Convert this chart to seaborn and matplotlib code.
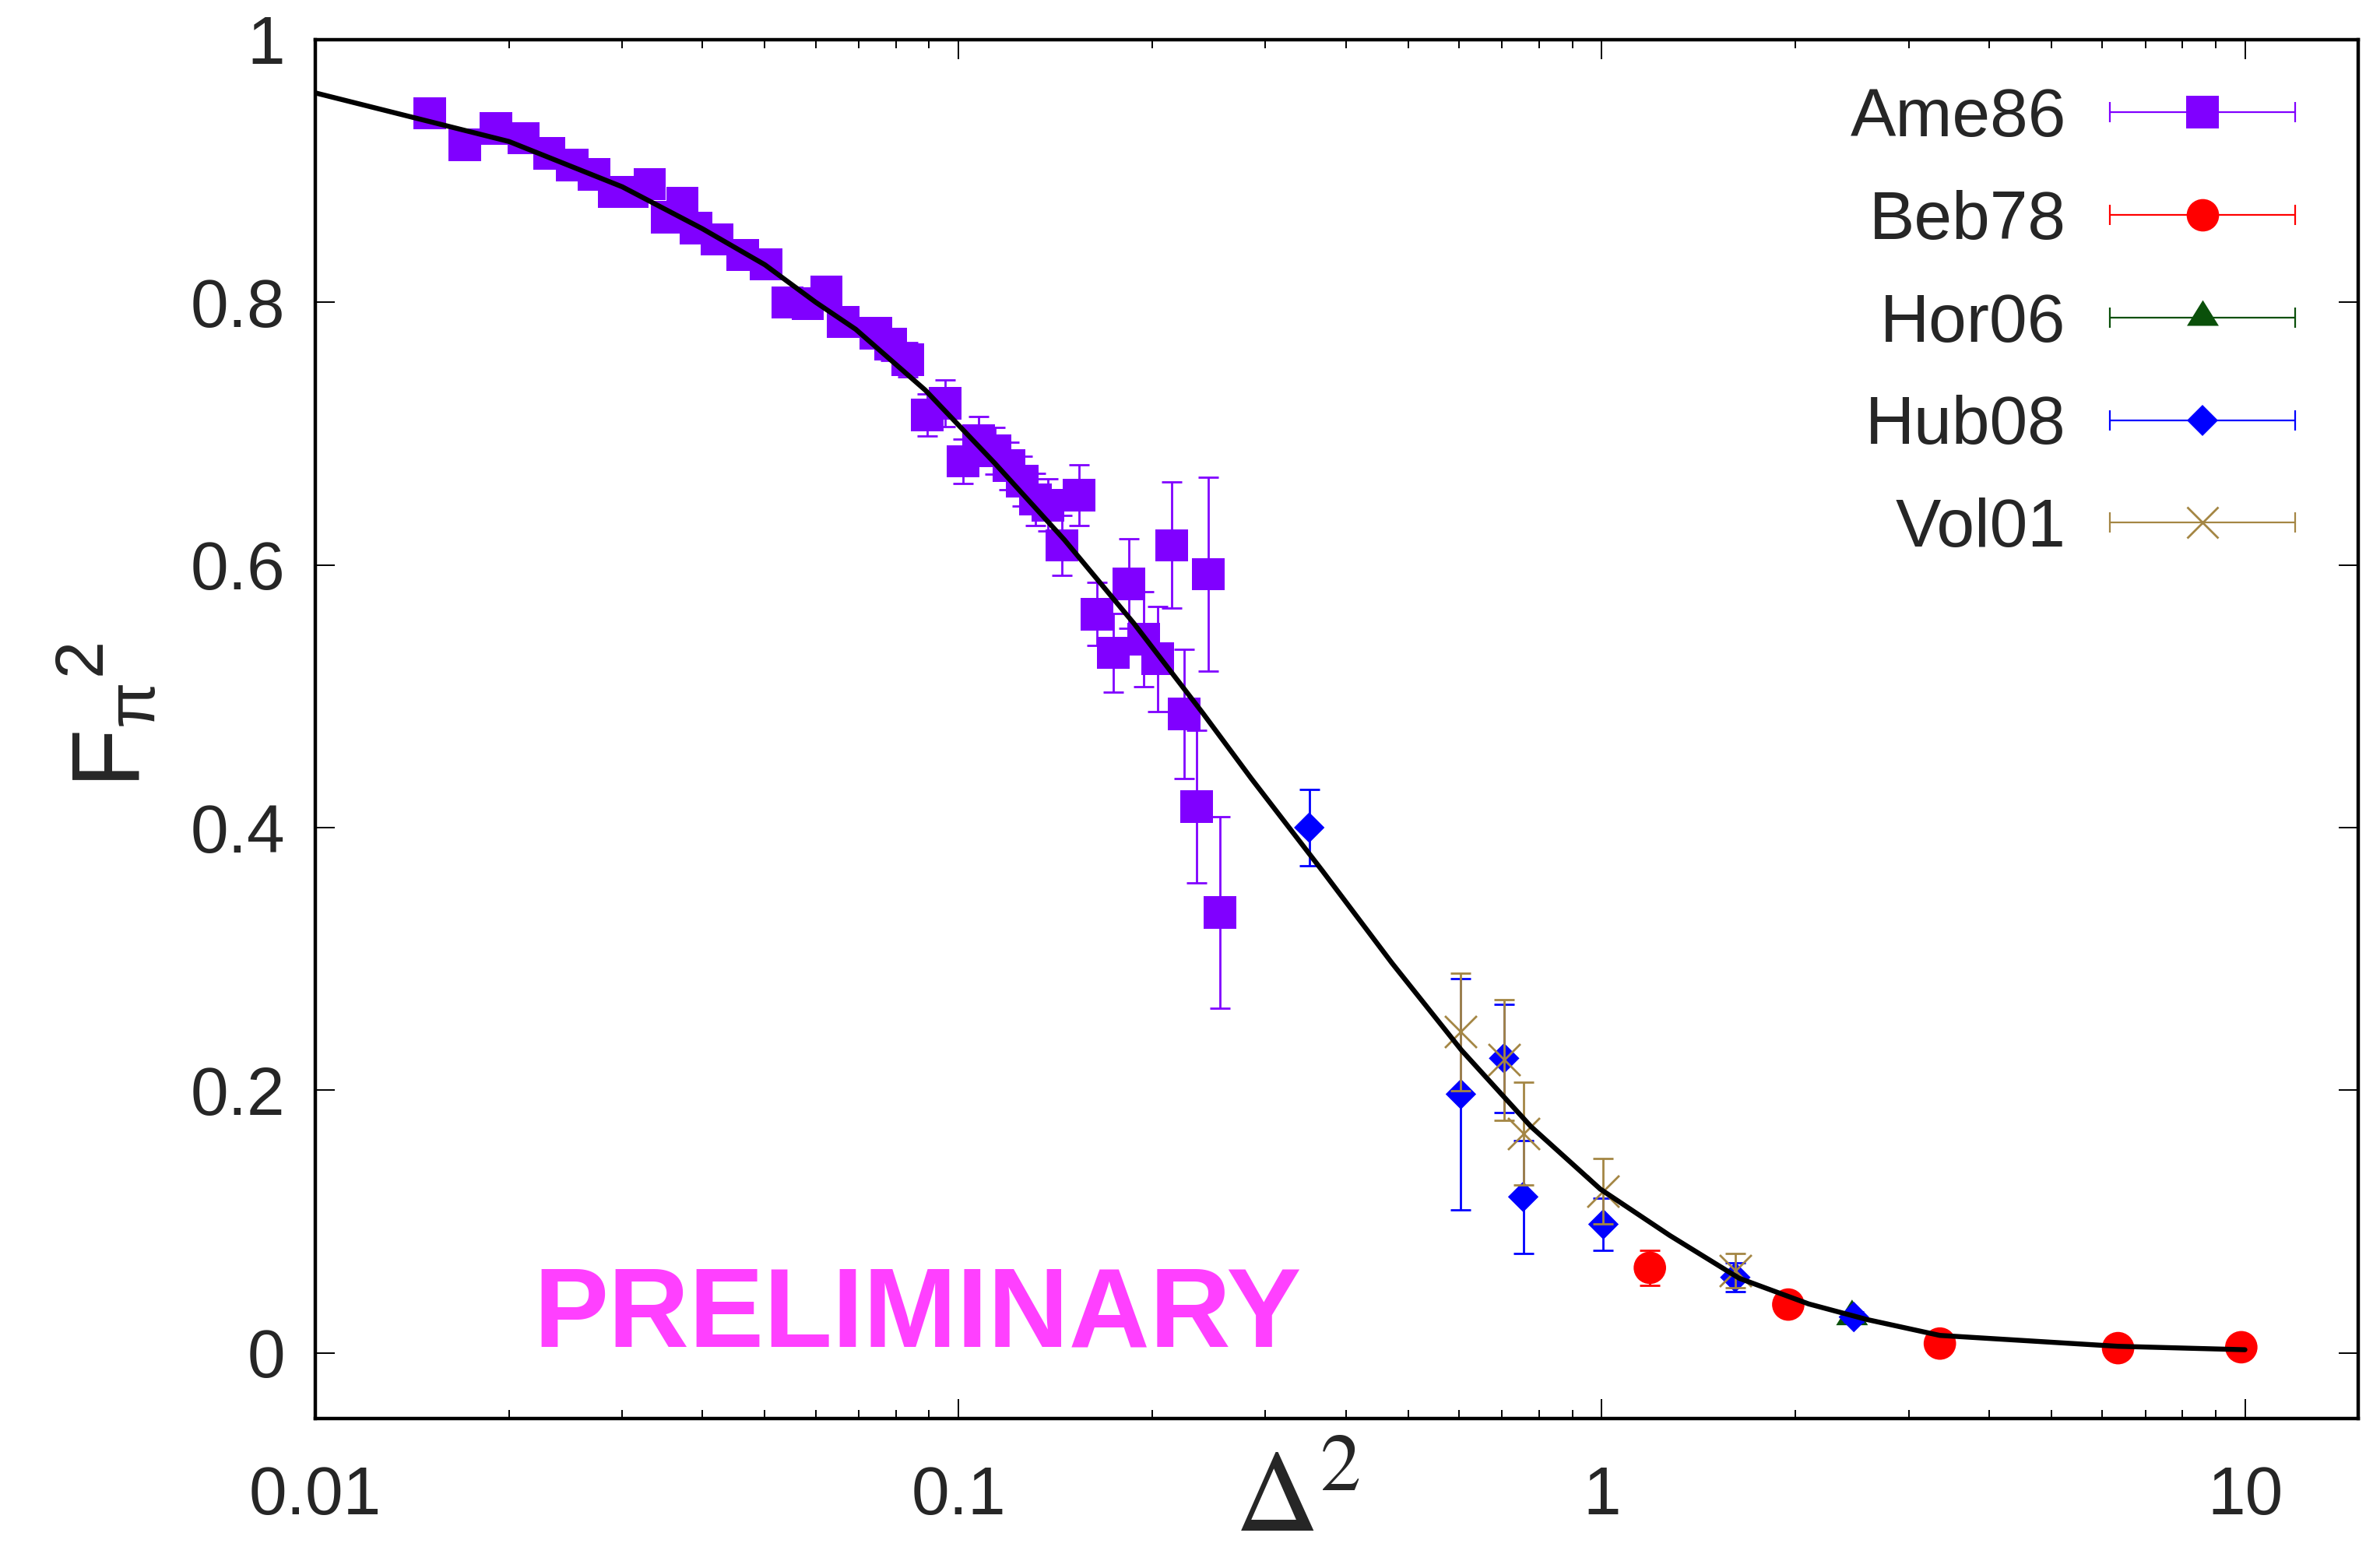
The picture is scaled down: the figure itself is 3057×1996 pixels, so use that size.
import numpy as np
import pandas as pd
import matplotlib
matplotlib.use("Agg")
import matplotlib.pyplot as plt
import seaborn as sns
from matplotlib.lines import Line2D
from matplotlib.legend_handler import HandlerLine2D, HandlerTuple
from matplotlib.ticker import FixedLocator, FixedFormatter, LogLocator, NullFormatter

# ---------------- data ----------------
ame86_x = [0.01506, 0.01707, 0.01908, 0.02108, 0.0231, 0.0251, 0.0271, 0.02911, 0.0311, 0.0331,
           0.0352, 0.0372, 0.0391, 0.0421, 0.0462, 0.0502, 0.0542, 0.0583, 0.0623, 0.0662,
           0.0744, 0.0785, 0.0834, 0.0894, 0.0953, 0.1017, 0.1075, 0.114, 0.1198, 0.1256,
           0.1318, 0.1376, 0.1448, 0.1539, 0.1641, 0.174, 0.184, 0.194, 0.204, 0.2145,
           0.2243, 0.2344, 0.2445, 0.2548]
ame86_y = [0.944, 0.920, 0.9325, 0.925, 0.9135, 0.9047, 0.8975, 0.884, 0.884, 0.890,
           0.865, 0.8756, 0.8567, 0.848, 0.836, 0.829, 0.800, 0.799, 0.808, 0.785,
           0.7766, 0.768, 0.7562, 0.7143, 0.7232, 0.679, 0.695, 0.687, 0.6756, 0.664,
           0.650, 0.6456, 0.615, 0.653, 0.5625, 0.5332, 0.5857, 0.5434, 0.5285, 0.615,
           0.4866, 0.416, 0.593, 0.3354]
ame86_e = [0.005, 0.005, 0.005, 0.005, 0.005, 0.005, 0.005, 0.006, 0.006, 0.006,
           0.006, 0.006, 0.007, 0.007, 0.007, 0.007, 0.009, 0.009, 0.010, 0.010,
           0.011, 0.012, 0.013, 0.016, 0.018, 0.017, 0.018, 0.018, 0.018, 0.019,
           0.020, 0.020, 0.023, 0.023, 0.024, 0.030, 0.034, 0.036, 0.040, 0.048,
           0.049, 0.058, 0.074, 0.073]

beb78_x = [1.188, 1.95, 3.355, 6.35, 9.87]
beb78_y = [0.0648, 0.0368, 0.0071, 0.0036, 0.0043]
beb78_e = [0.0135, 0.004, 0.002, 0.001, 0.001]

hor06_x = [2.45]
hor06_y = [0.027]
hor06_e = [0.004]

hub08_x = [0.351, 0.604, 0.705, 0.755, 1.006, 1.613, 2.466]
hub08_y = [0.400, 0.197, 0.2243, 0.1188, 0.0979, 0.0575, 0.0273]
hub08_e = [0.029, 0.088, 0.041, 0.043, 0.020, 0.011, 0.004]

vol01_x = [0.604, 0.705, 0.755, 1.006, 1.613]
vol01_y = [0.2444, 0.2231, 0.1669, 0.123, 0.0624]
vol01_e = [0.045, 0.046, 0.039, 0.025, 0.013]

curve_x = [0.01, 0.02, 0.03, 0.04, 0.05, 0.06, 0.0692, 0.0888, 0.1138, 0.146, 0.1872,
           0.240, 0.2855, 0.368, 0.472, 0.605, 0.776, 0.995, 1.275, 1.636, 2.097, 2.584,
           3.355, 6.35, 10.0]
curve_y = [0.9595, 0.9225, 0.888, 0.856, 0.8286, 0.800, 0.7795, 0.7331, 0.6776, 0.6193, 0.5557,
           0.4869, 0.4371, 0.367, 0.2968, 0.2306, 0.1724, 0.1247, 0.0895, 0.0568, 0.0373, 0.0254,
           0.0133, 0.0050, 0.0024]

xtick_vals = [0.01, 0.1, 1, 10]
xtick_labels = ["0.01", "0.1", "1", "10"]
ytick_vals = [0, 0.2, 0.4, 0.6, 0.8, 1.0]
ytick_labels = ["0", "0.2", "0.4", "0.6", "0.8", "1"]

series_names = ["Ame86", "Beb78", "Hor06", "Hub08", "Vol01"]

# ---------------- style ----------------
sns.set_style("ticks")
plt.rcParams['font.family'] = ['Liberation Sans', 'DejaVu Sans']
plt.rcParams['mathtext.fontset'] = 'custom'
plt.rcParams['mathtext.rm'] = 'Liberation Sans'
plt.rcParams['mathtext.it'] = 'Liberation Sans:italic'
plt.rcParams['mathtext.bf'] = 'Liberation Sans:bold'

W, H, DPI = 3057, 1996, 100
fig = plt.figure(figsize=(W / DPI, H / DPI), dpi=DPI)
L, R, T, B = 405, 3029, 51, 1822
ax = fig.add_axes([L / W, 1 - B / H, (R - L) / W, (B - T) / H])

tri_marker = [(0, 1.12), (-1, -0.49), (1, -0.49)]

styles = {
    "Ame86": dict(color="#8000FF", marker="s", ms=30),
    "Beb78": dict(color="#FF0000", marker="o", ms=30),
    "Hor06": dict(color="#0A500A", marker=tri_marker, ms=33),
    "Hub08": dict(color="#0000FF", marker="D", ms=20),
    "Vol01": dict(color="#A48644", marker="x", ms=29.5),
}
datasets = {
    "Ame86": (ame86_x, ame86_y, ame86_e),
    "Beb78": (beb78_x, beb78_y, beb78_e),
    "Hor06": (hor06_x, hor06_y, hor06_e),
    "Hub08": (hub08_x, hub08_y, hub08_e),
    "Vol01": (vol01_x, vol01_y, vol01_e),
}

ax.set_xscale("log")

for i, name in enumerate(series_names):
    xs, ys, es = datasets[name]
    st = styles[name]
    df = pd.DataFrame({"x": xs, "y": ys})
    ax.errorbar(xs, ys, yerr=es, fmt="none", ecolor=st["color"], elinewidth=2,
                capsize=9.7, capthick=2, zorder=2 + 2 * i)
    if st["marker"] == "x":
        sns.scatterplot(data=df, x="x", y="y", ax=ax, marker="x", s=st["ms"] ** 2,
                        color=st["color"], linewidth=2, zorder=3 + 2 * i, legend=False)
    else:
        sns.scatterplot(data=df, x="x", y="y", ax=ax, marker=st["marker"], s=st["ms"] ** 2,
                        color=st["color"], edgecolor="none", linewidth=0,
                        zorder=3 + 2 * i, legend=False)

curve_df = pd.DataFrame({"x": curve_x, "y": curve_y})
n_before = len(ax.lines)
sns.lineplot(data=curve_df, x="x", y="y", ax=ax, color="black", linewidth=4.6, sort=False,
             estimator=None, zorder=20)
for ln in ax.lines[n_before:]:
    ln.set_linewidth(4.6)
    ln.set_solid_joinstyle("round")

ax.set_xlim(0.01, 15)
ax.set_ylim(-0.05, 1.0)

ax.xaxis.set_major_locator(FixedLocator(xtick_vals))
ax.xaxis.set_major_formatter(FixedFormatter(xtick_labels))
ax.xaxis.set_minor_locator(LogLocator(base=10, subs=np.arange(2, 10)))
ax.xaxis.set_minor_formatter(NullFormatter())
ax.yaxis.set_major_locator(FixedLocator(ytick_vals))
ax.yaxis.set_major_formatter(FixedFormatter(ytick_labels))

for sp in ax.spines.values():
    sp.set_linewidth(3.2)
    sp.set_color("black")
    sp.set_visible(True)
ax.tick_params(which="both", direction="in", top=True, right=True, color="black")
ax.tick_params(which="major", length=18, width=1.4, labelsize=63)
ax.tick_params(which="minor", length=8, width=1.4)
ax.tick_params(axis="x", which="major", pad=43)
ax.tick_params(axis="y", which="major", pad=28)

ax.set_xlabel(r"$\Delta^{2}$", fontsize=107, math_fontfamily="stix")
ax.xaxis.set_label_coords((1667 - L) / (R - L), (B - 1860) / (B - T))
ax.set_ylabel(r"$\mathrm{F}_{\mathrm{\pi}}{}^{\mathrm{2}}$", fontsize=89)
ax.yaxis.set_label_coords((207 - L) / (R - L), 0.51)

ax.text((685 - L) / (R - L), (B - 1729) / (B - T), "PRELIMINARY", transform=ax.transAxes,
        fontsize=103.7, fontweight="bold", color="#FF40FF", ha="left", va="baseline",
        family="Liberation Sans", zorder=1)

# legend
handles = []
hmap = {}
for name in series_names:
    st = styles[name]
    cap_line = Line2D([], [], color=st["color"], lw=1.6, marker="|", ms=19, mew=1.6)
    if st["marker"] == "x":
        mk = Line2D([], [], ls="none", color=st["color"], marker="x", ms=st["ms"], mew=2)
    else:
        mk = Line2D([], [], ls="none", color=st["color"], marker=st["marker"], ms=st["ms"], mew=0)
    hmap[cap_line] = HandlerLine2D(numpoints=2)
    hmap[mk] = HandlerLine2D(numpoints=1)
    handles.append((cap_line, mk))
hmap[tuple] = HandlerTuple(ndivide=1, pad=0)

leg = ax.legend(handles, series_names, handler_map=hmap, loc="upper right",
                bbox_to_anchor=((2974 - L) / (R - L), (B - 112) / (B - T)),
                frameon=False, markerfirst=False, fontsize=63, handlelength=3.32,
                handletextpad=0.34, labelspacing=0.58, borderpad=0, borderaxespad=0)

fig.savefig("out.png", dpi=DPI, facecolor="white")
